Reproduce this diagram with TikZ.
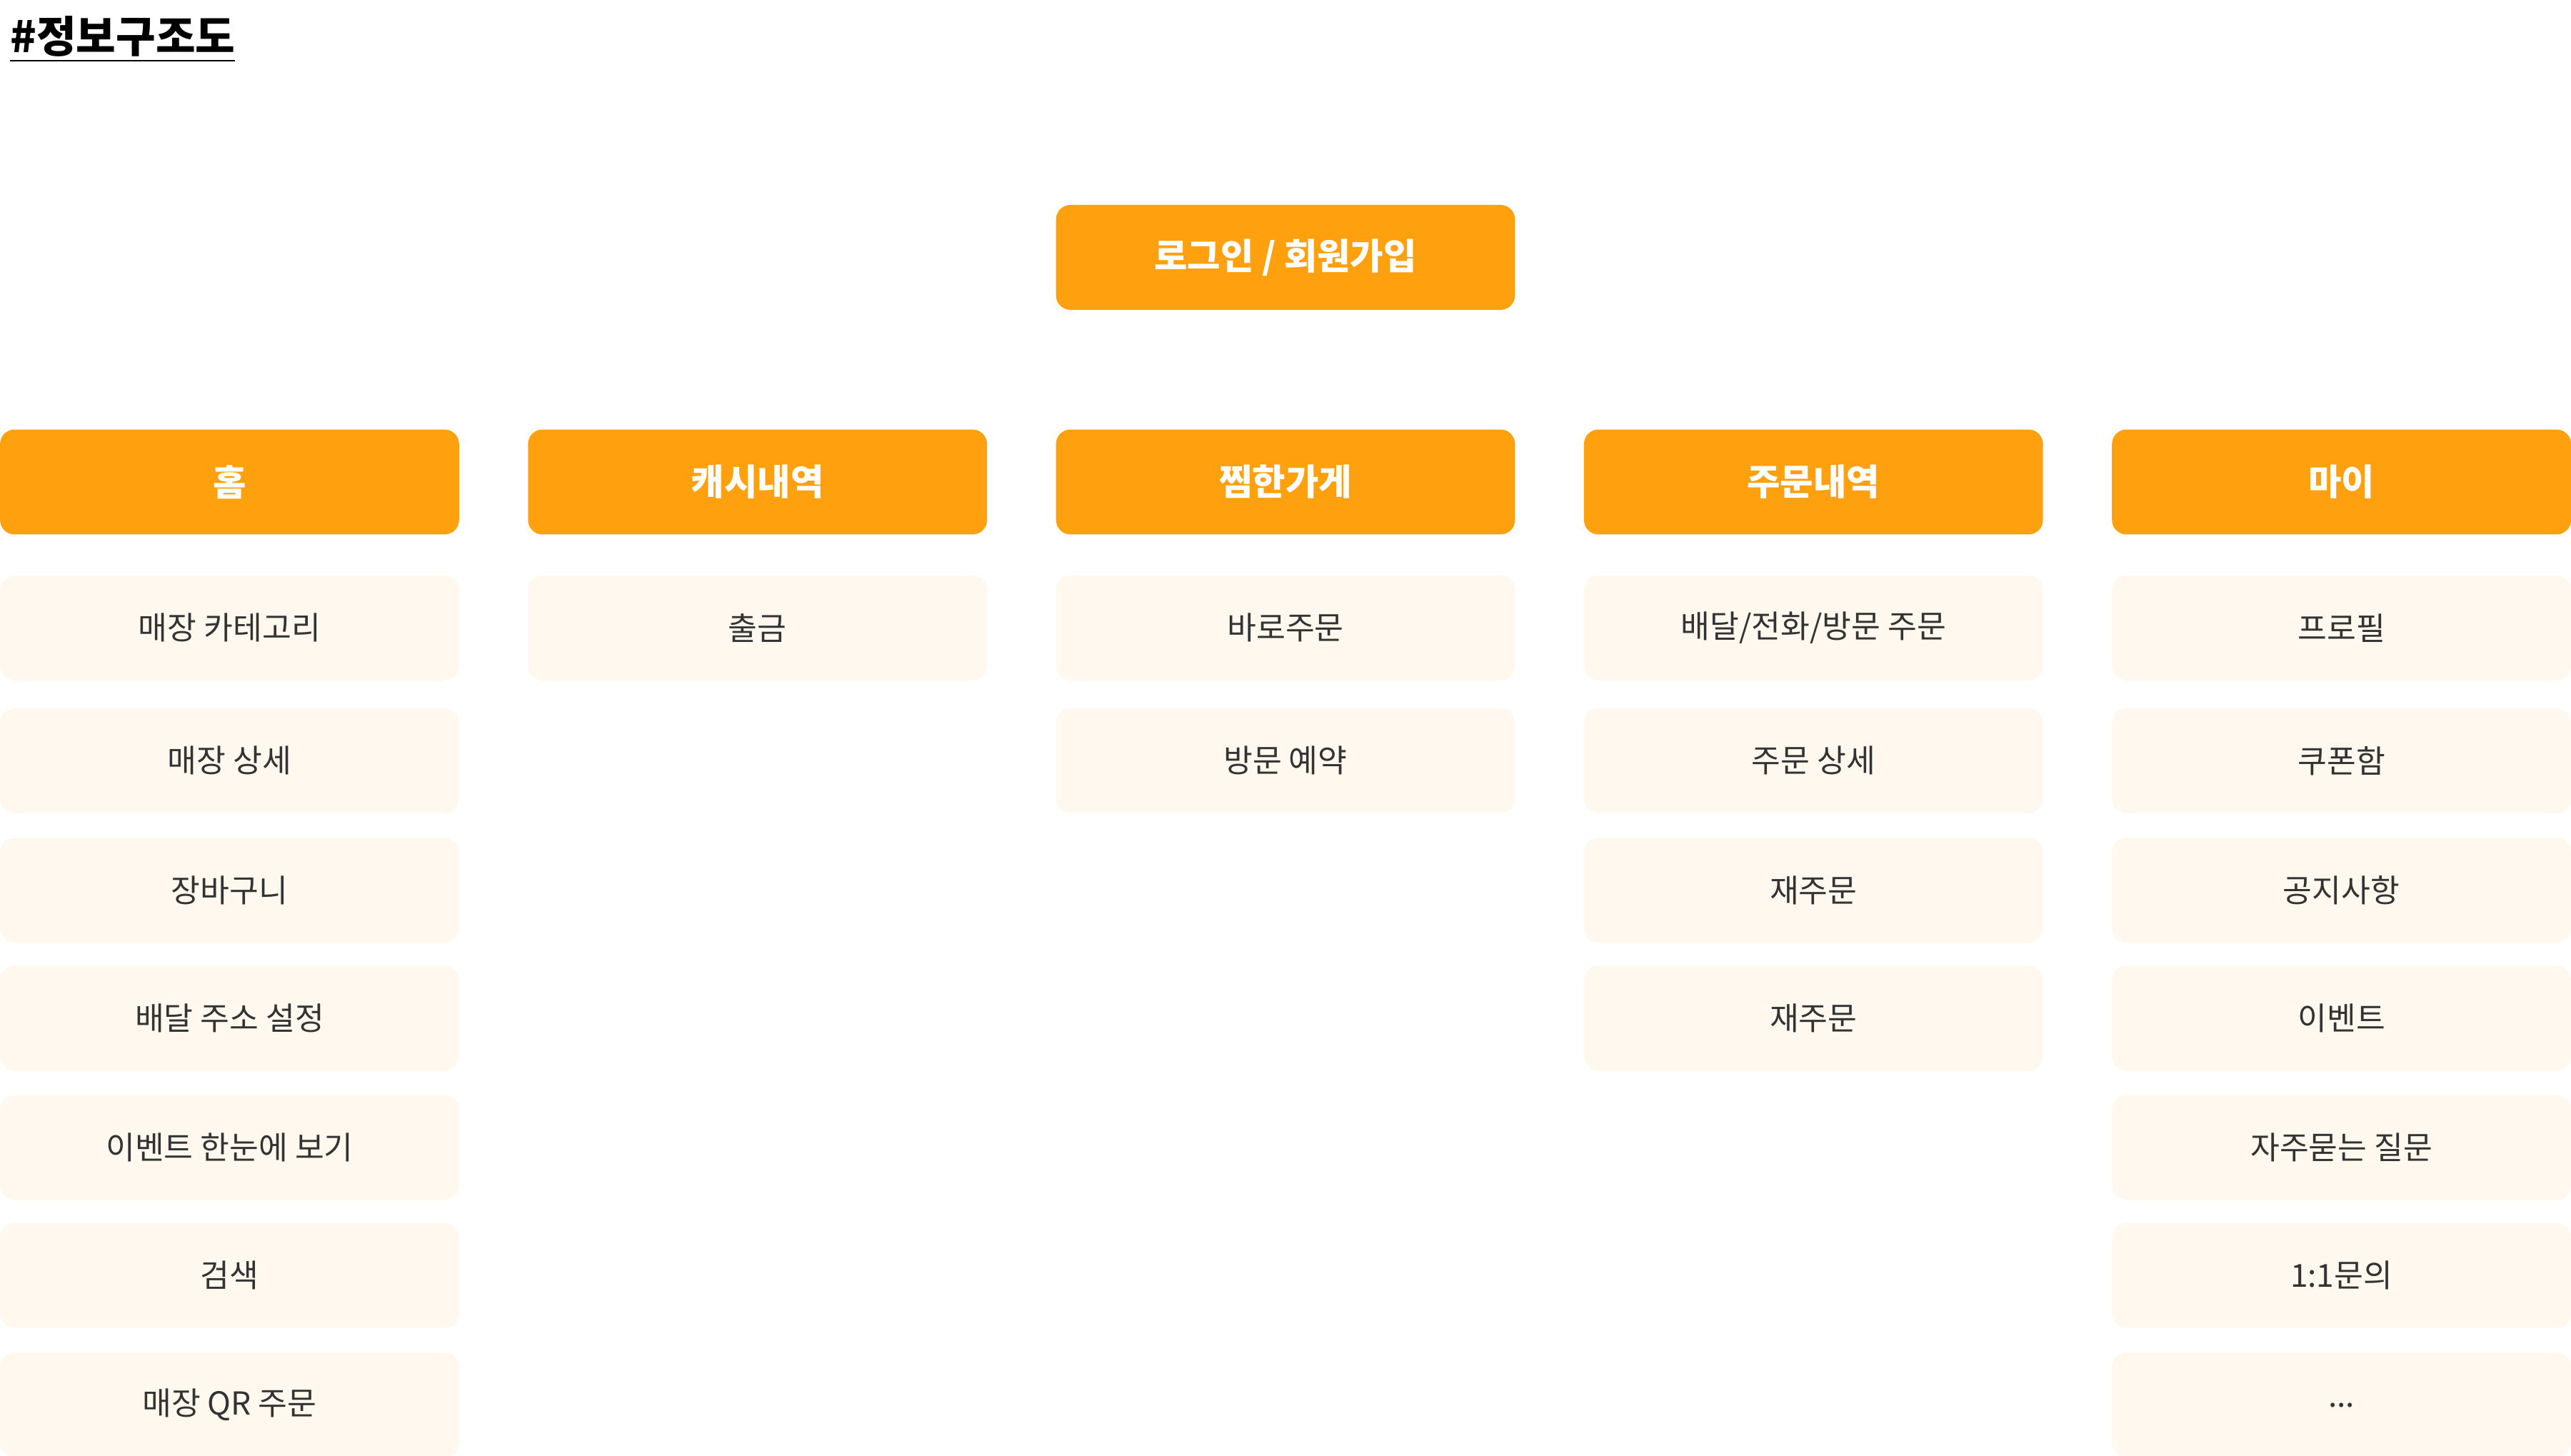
\documentclass[tikz,border=0pt]{standalone}
\usepackage{fontspec}
\setmainfont{Noto Sans CJK KR}
\definecolor{org}{HTML}{FFA00F}
\definecolor{lite}{HTML}{FFF8EE}
\definecolor{txt}{HTML}{333333}
\begin{document}
\begin{tikzpicture}[x=0.02cm,y=-0.02cm,
 hd/.style={fill=org,rounded corners=5pt,minimum width=5.6cm,minimum height=1.28cm,inner sep=0pt,text=white,font=\fontsize{12.5}{14}\selectfont\bfseries},
 it/.style={fill=lite,rounded corners=5pt,minimum width=5.6cm,minimum height=1.28cm,inner sep=0pt,text=txt,font=\fontsize{11}{13}\selectfont}]
\useasboundingbox (0,0) rectangle (1568,888);
\node[anchor=west,font=\fontsize{15}{17}\selectfont\bfseries,text=black] (title) at (0,24) {\underline{\#정보구조도}};
\node[hd] (login) at (784,157) {로그인 / 회원가입};
\foreach \n/\x/\t in {h/140/홈,c/462/캐시내역,z/784/찜한가게,o/1106/주문내역,m/1428/마이}
  \node[hd] (\n) at (\x,294) {\t};
\begin{scope}
\clip (0,0) rectangle (1568,888);
\foreach \i/\y/\t in {1/383/매장 카테고리,2/464/매장 상세,3/543/장바구니,4/621/배달 주소 설정,5/700/이벤트 한눈에 보기,6/778/검색,7/857/매장 QR 주문}
  \node[it] (h\i) at (140,\y) {\t};
\node[it] (c1) at (462,383) {출금};
\foreach \i/\y/\t in {1/383/바로주문,2/464/방문 예약}
  \node[it] (z\i) at (784,\y) {\t};
\node[it] (o1) at (1106,383) {배달/전화/방문 주문};
\foreach \i/\y/\t in {2/464/주문 상세,3/543/재주문,4/621/재주문}
  \node[it] (o\i) at (1106,\y) {\t};
\foreach \i/\y/\t in {1/383/프로필,2/464/쿠폰함,3/543/공지사항,4/621/이벤트,5/700/자주묻는 질문,6/778/1:1문의}
  \node[it] (m\i) at (1428,\y) {\t};
\node[it] (m7) at (1428,857) {...};
\end{scope}
\end{tikzpicture}
\end{document}
